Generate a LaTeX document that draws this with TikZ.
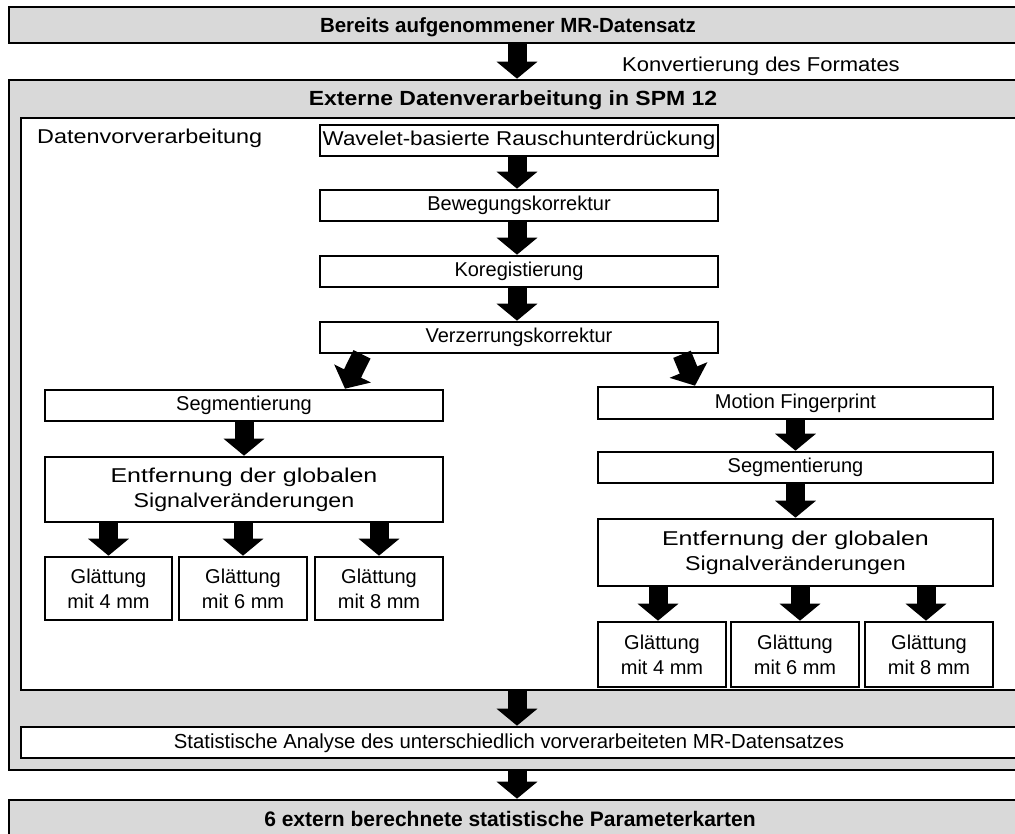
\documentclass[tikz,border=0pt]{standalone}
\usepackage{fontspec}
\usepackage{graphicx}
\setmainfont{Liberation Sans}
\usetikzlibrary{arrows.meta}
\definecolor{boxgray}{HTML}{D9D9D9}
\tikzset{
  graybox/.style={draw=black, fill=boxgray, line width=2.6pt, inner sep=0pt, align=center, font=\fontsize{20.5}{24}\selectfont\bfseries},
  whitebox/.style={draw=black, fill=white, line width=2.6pt, inner sep=0pt, align=center, font=\fontsize{20}{25}\selectfont},
  plaintext/.style={inner sep=0pt, font=\fontsize{20}{24}\selectfont},
  boldtext/.style={inner sep=0pt, font=\fontsize{20.5}{24}\selectfont\bfseries},
  blockarrow/.style={line width=19pt, -{Triangle[width=40pt,length=17pt]}}
}
\newcommand\hs[2]{\scalebox{#1}[1]{#2}}
\newcommand\bx[7]{\node[#1, minimum width={#5-#3}, minimum height={#6-#4}] (#2) at ({(#3+#5)/2},{(#4+#6)/2}) {#7};}
\begin{document}
\begin{tikzpicture}[x=1pt,y=-1pt]
\useasboundingbox (0,0) rectangle (1015,834);
% top
\bx{graybox}{top}{9}{7}{1021}{43}{}
\node[boldtext] (toptext) at (508,27) {Bereits aufgenommener MR-Datensatz};
% outer
\bx{graybox}{outer}{9}{80}{1021}{770}{}
\node[boldtext] (title) at (513,100) {\hs{1.12}{Externe Datenverarbeitung in SPM 12}};
\bx{whitebox}{inner}{21}{118}{1025}{690}{}
\node[plaintext, anchor=west] (vorv) at (37,138) {\hs{1.17}{Datenvorverarbeitung}};
\node[plaintext, anchor=west] (konv) at (622,66) {\hs{1.10}{Konvertierung des Formates}};
% center column
\bx{whitebox}{wav}{320}{125}{718}{156}{\hs{1.12}{Wavelet-basierte Rauschunterdrückung}}
\bx{whitebox}{bew}{320}{190}{718}{221}{Bewegungskorrektur}
\bx{whitebox}{kor}{320}{256}{718}{287}{Koregistierung}
\bx{whitebox}{ver}{320}{322}{718}{353}{Verzerrungskorrektur}
% left column
\bx{whitebox}{lseg}{45}{390}{443}{421}{Segmentierung}
\bx{whitebox}{lent}{45}{457}{443}{522}{\hs{1.25}{Entfernung der globalen}\\\hs{1.16}{Signalveränderungen}}
\bx{whitebox}{lg1}{45}{557}{172}{620}{Glättung\\mit 4 mm}
\bx{whitebox}{lg2}{179}{557}{307}{620}{Glättung\\mit 6 mm}
\bx{whitebox}{lg3}{315}{557}{443}{620}{Glättung\\mit 8 mm}
% right column
\bx{whitebox}{mot}{598}{387}{993}{419}{Motion Fingerprint}
\bx{whitebox}{rseg}{598}{452}{993}{483}{Segmentierung}
\bx{whitebox}{rent}{598}{519}{993}{586}{\hs{1.25}{Entfernung der globalen}\\\hs{1.16}{Signalveränderungen}}
\bx{whitebox}{rg1}{598}{622}{726}{687}{Glättung\\mit 4 mm}
\bx{whitebox}{rg2}{731}{622}{859}{687}{Glättung\\mit 6 mm}
\bx{whitebox}{rg3}{865}{622}{993}{687}{Glättung\\mit 8 mm}
% bottom
\bx{whitebox}{stat}{21}{727}{1025}{758}{}
\node[plaintext, font=\fontsize{20.3}{24}\selectfont] (stattext) at (509,743) {Statistische Analyse des unterschiedlich vorverarbeiteten MR-Datensatzes};
\bx{graybox}{bot}{9}{800}{1021}{850}{}
\node[boldtext, font=\fontsize{21}{24}\selectfont\bfseries] (bottext) at (510,819) {6 extern berechnete statistische Parameterkarten};
% arrows
\coordinate (a0) at (517,0);
\draw[blockarrow] (top.south -| a0) -- (outer.north -| a0);
\draw[blockarrow] (wav.south -| a0) -- (bew.north -| a0);
\draw[blockarrow] (bew.south -| a0) -- (kor.north -| a0);
\draw[blockarrow] (kor.south -| a0) -- (ver.north -| a0);
\coordinate (dl) at (362,0);
\coordinate (dlt) at (345,0);
\coordinate (dr) at (682,0);
\coordinate (drt) at (695,0);
\draw[blockarrow] (ver.south -| dl) -- (lseg.north -| dlt);
\draw[blockarrow] (ver.south -| dr) -- (mot.north -| drt);
\draw[blockarrow] (lseg.south) -- (lent.north);
\draw[blockarrow] (lent.south -| lg1.north) -- (lg1.north);
\draw[blockarrow] (lent.south -| lg2.north) -- (lg2.north);
\draw[blockarrow] (lent.south -| lg3.north) -- (lg3.north);
\draw[blockarrow] (mot.south) -- (rseg.north);
\draw[blockarrow] (rseg.south) -- (rent.north);
\coordinate (r1) at (658,0);
\coordinate (r2) at (800,0);
\coordinate (r3) at (926,0);
\draw[blockarrow] (rent.south -| r1) -- (rg1.north -| r1);
\draw[blockarrow] (rent.south -| r2) -- (rg2.north -| r2);
\draw[blockarrow] (rent.south -| r3) -- (rg3.north -| r3);
\draw[blockarrow] (inner.south -| a0) -- (stat.north -| a0);
\draw[blockarrow] (outer.south -| a0) -- (bot.north -| a0);
\end{tikzpicture}
\end{document}
